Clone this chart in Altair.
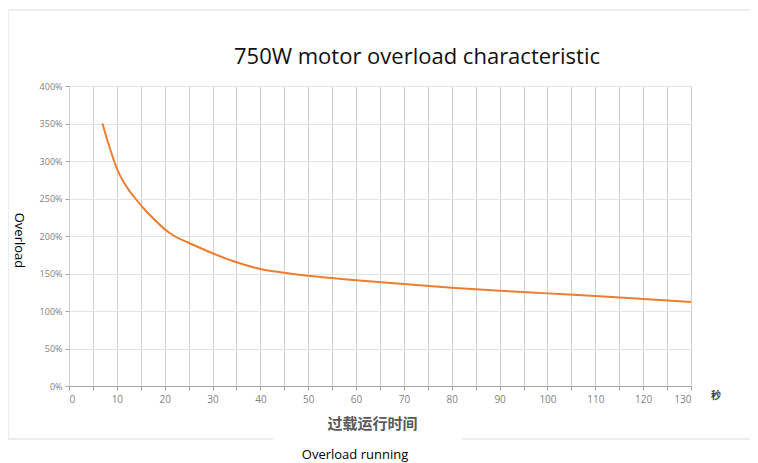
import altair as alt
import pandas as pd

# Data
seconds = [7, 8, 9, 10, 12, 14, 16, 18, 20, 22, 25, 30, 35, 40, 45, 50, 60, 70, 80, 90, 100, 110, 120, 130]
overload = [3.50, 3.28, 3.08, 2.90, 2.66, 2.49, 2.34, 2.21, 2.09, 2.00, 1.91, 1.77, 1.65, 1.56, 1.51, 1.47, 1.41, 1.36, 1.31, 1.27, 1.235, 1.20, 1.16, 1.12]

title_text = "750W motor overload characteristic"
x_title = "过载运行时间"
y_title = "Overload"
unit_text = "秒"
sub_text = "Overload running"

df = pd.DataFrame({"t": seconds, "v": overload})

W, H = 622, 300
PL, PT = 61, 78
TOTAL_W, TOTAL_H = 742, 455
PR, PB = TOTAL_W - PL - W, TOTAL_H - PT - H

x_enc = alt.X(
    "t:Q",
    scale=alt.Scale(domain=[0, 130], nice=False),
    axis=alt.Axis(
        values=list(range(0, 131, 5)),
        labelExpr="datum.value % 10 == 0 ? datum.label : ''",
        title=x_title,
        titleFont="Noto Sans CJK SC",
        titleFontSize=15,
        titleFontWeight="bold",
        titleColor="#595959",
        titleX=303,
        titleY=37,
        titleAlign="center",
        titleBaseline="middle",
        labelFont="Open Sans",
        labelFontSize=10,
        labelColor="#7f7f7f",
        labelPadding=4,
        domainColor="#a6a6a6",
        tickColor="#a6a6a6",
        tickSize=4,
        gridColor="#cfcfcf",
        gridWidth=1,
    ),
)
y_enc = alt.Y(
    "v:Q",
    scale=alt.Scale(domain=[0, 4], nice=False),
    axis=alt.Axis(
        values=[0, 0.5, 1, 1.5, 2, 2.5, 3, 3.5, 4],
        format=".0%",
        title=y_title,
        titleFont="Open Sans",
        titleFontSize=13,
        titleFontWeight="normal",
        titleColor="#000000",
        titleAngle=90,
        titleX=-51,
        titleY=154,
        titleAlign="center",
        titleBaseline="middle",
        labelFont="Open Sans",
        labelFontSize=9,
        labelColor="#7f7f7f",
        labelPadding=3,
        domain=False,
        tickColor="#a6a6a6",
        tickSize=4,
        gridColor="#e4e4e4",
        gridWidth=1,
    ),
)

line = alt.Chart(df).mark_line(color="#ED7D31", strokeWidth=2, interpolate="monotone").encode(x=x_enc, y=y_enc)

one = alt.Data(values=[{"a": 1}])

def label(txt, x, y, size, color, weight="normal", font="Open Sans"):
    return alt.Chart(one).mark_text(
        text=txt, fontSize=size, color=color, fontWeight=weight, font=font,
        align="center", baseline="middle",
    ).encode(x=alt.value(x), y=alt.value(y))

title_mark = label(title_text, 348, -29, 22, "#111111")
unit_mark = label(unit_text, 647, 310, 10, "#404040", "bold", "Noto Sans CJK SC")
sub_mark = label(sub_text, 286, 369, 13, "#000000")

frame_color = "#dcdcdc"
def hrule(x1, x2, y):
    return alt.Chart(one).mark_rule(color=frame_color, strokeWidth=1).encode(
        x=alt.value(x1), x2=alt.value(x2), y=alt.value(y))
def vrule(x, y1, y2):
    return alt.Chart(one).mark_rule(color=frame_color, strokeWidth=1).encode(
        x=alt.value(x), y=alt.value(y1), y2=alt.value(y2))

frame = hrule(-61, 681, -76) + vrule(-61, -76, 353) + hrule(-61, 204, 353) + hrule(393, 681, 353)

chart = alt.layer(frame, line, title_mark, unit_mark, sub_mark).properties(
    width=W, height=H,
    autosize=alt.AutoSizeParams(type="none"),
    padding={"left": PL, "top": PT, "right": PR, "bottom": PB},
    background="white",
).configure_view(stroke=None)

chart.save("out.html", embed_options={"renderer": "svg", "actions": False})
